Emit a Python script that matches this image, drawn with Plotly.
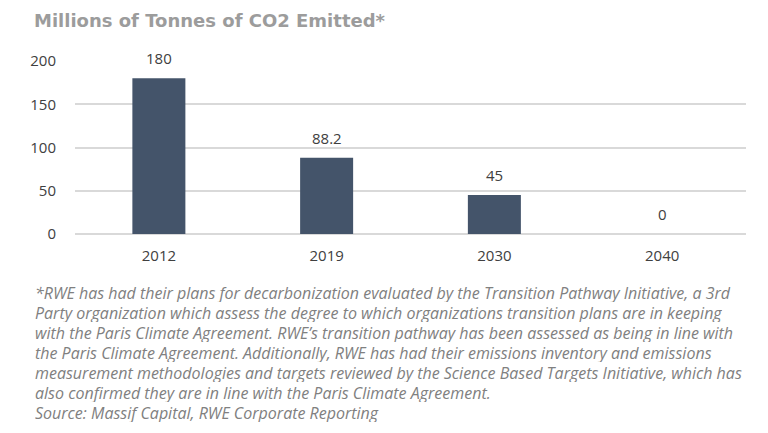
import plotly.graph_objects as go

years = ["2012", "2019", "2030", "2040"]
emissions = [180, 88.2, 45, 0]
value_labels = ["180", "88.2", "45", "0"]
y_ticks = [0, 50, 100, 150, 200]

title_text = "Millions of Tonnes of CO2 Emitted*"
footnote_lines = [
    "*RWE has had their plans for decarbonization evaluated by the Transition Pathway Initiative, a 3rd",
    "Party organization which assess the degree to which organizations transition plans are in keeping",
    "with the Paris Climate Agreement. RWE\u2019s transition pathway has been assessed as being in line with",
    "the Paris Climate Agreement. Additionally, RWE has had their emissions inventory and emissions",
    "measurement methodologies and targets reviewed by the Science Based Targets Initiative, which has",
    "also confirmed they are in line with the Paris Climate Agreement.",
    "Source: Massif Capital, RWE Corporate Reporting",
]

W, H = 768, 433
ml, mr, mt, mb = 75, 22, 61, 199
pw, ph = W - ml - mr, H - mt - mb

def px_x(px):
    return (px - ml) / pw

def px_y(py):
    return (H - mb - py) / ph

fig = go.Figure()
fig.add_trace(go.Bar(
    x=years, y=emissions,
    marker=dict(color="#44546a", line=dict(width=0)),
    hoverinfo="skip",
))

for i, (v, lab) in enumerate(zip(emissions, value_labels)):
    fig.add_annotation(
        x=i, y=v, xref="x", yref="y", text=lab, showarrow=False,
        yanchor="bottom", yshift=8,
        font=dict(family="Open Sans", size=15, color="#404040"),
    )

fig.add_annotation(
    xref="paper", yref="paper", x=px_x(32), y=px_y(21),
    xanchor="left", yanchor="middle", text="<b>" + title_text + "</b>",
    showarrow=False,
    font=dict(family="DejaVu Sans", size=18, color="#9c9c9c"),
)

for i, line in enumerate(footnote_lines):
    fig.add_annotation(
        xref="paper", yref="paper", x=px_x(34), y=px_y(292.7 + i * 19.93),
        xanchor="left", yanchor="middle", align="left",
        text="<i>" + line + "</i>",
        showarrow=False, borderpad=0, height=19,
        font=dict(family="Open Sans", size=16, color="#808080"),
    )

fig.update_layout(
    width=W, height=H,
    margin=dict(l=ml, r=mr, t=mt, b=mb, pad=0),
    paper_bgcolor="white", plot_bgcolor="white",
    showlegend=False,
    bargap=0.684,
    xaxis=dict(
        type="category", range=[-0.5, len(years) - 0.5], autorange=False,
        showgrid=False, showline=False,
        ticks="outside", ticklen=8, tickcolor="rgba(0,0,0,0)",
        tickfont=dict(family="Open Sans", size=15, color="#404040"),
    ),
    yaxis=dict(
        range=[0, 200], autorange=False, tickvals=y_ticks, showgrid=True,
        gridcolor="#d9d9d9", gridwidth=1.5,
        zeroline=True, zerolinecolor="#d9d9d9", zerolinewidth=1.5,
        showline=False,
        ticks="outside", ticklen=15, tickcolor="rgba(0,0,0,0)",
        tickfont=dict(family="Open Sans", size=15, color="#404040"),
    ),
)

fig.write_html("out.html", config={"displayModeBar": False},
               post_script="document.body.style.margin='0';")
